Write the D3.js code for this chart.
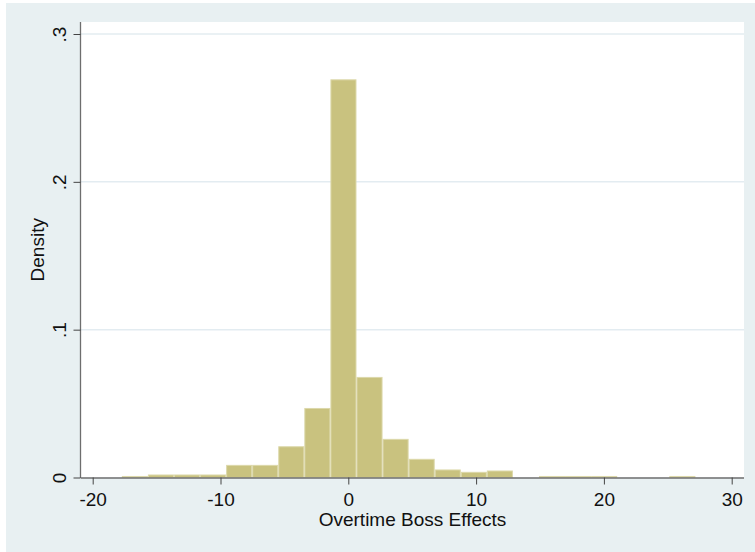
<!DOCTYPE html>
<html>
<head>
<meta charset="utf-8">
<script src="https://cdn.jsdelivr.net/npm/d3@7"></script>
<style>
html,body{margin:0;padding:0;background:#fff;}
svg{display:block;}
text{font-family:"Liberation Sans",Arial,sans-serif;fill:#111;}
</style>
</head>
<body>
<svg id="chart" width="755" height="552"></svg>
<script>
// Histogram bins (left edges start at binStart, fixed width)
const binStart = -17.72;
const binWidth = 2.04;
const densities = [0.0007, 0.0017, 0.0017, 0.0017, 0.0082, 0.0082, 0.0208, 0.0467, 0.269, 0.0677,
                   0.0258, 0.0123, 0.0051, 0.0035, 0.0044, 0, 0.0007, 0.0007, 0.0007, 0, 0, 0.0007];
const xTicks = [-20, -10, 0, 10, 20, 30];
const xTickLabels = ["-20", "-10", "0", "10", "20", "30"];
const yTicks = [0, 0.1, 0.2, 0.3];
const yTickLabels = ["0", ".1", ".2", ".3"];
const xTitle = "Overtime Boss Effects";
const yTitle = "Density";

const bins = densities.map((d, i) => ({x0: binStart + i * binWidth, x1: binStart + (i + 1) * binWidth, d}));

const svg = d3.select("#chart");
// outer background
svg.append("rect").attr("x", 6).attr("y", 3).attr("width", 749).attr("height", 549).attr("fill", "#e8f0f2");

const plotL = 81, plotR = 744, plotT = 22, plotB = 477.5;
svg.append("rect").attr("x", plotL).attr("y", plotT).attr("width", plotR - plotL).attr("height", plotB - plotT).attr("fill", "#ffffff");

const x = d3.scaleLinear().domain([-20, 30]).range([92.7, 731.7]);
const y = d3.scaleLinear().domain([0, 0.3]).range([plotB, 34]);

// gridlines
svg.append("g").selectAll("line").data(yTicks.filter(t => t > 0)).join("line")
  .attr("x1", plotL).attr("x2", plotR)
  .attr("y1", d => y(d)).attr("y2", d => y(d))
  .attr("stroke", "#e3ecf1").attr("stroke-width", 1.5);

// bars
svg.append("g").selectAll("rect").data(bins.filter(b => b.d > 0)).join("rect")
  .attr("x", b => x(b.x0) + 0.5)
  .attr("width", b => x(b.x1) - x(b.x0) - 1)
  .attr("y", b => y(b.d))
  .attr("height", b => Math.max(0, y(0) - y(b.d)))
  .attr("fill", "#c9c27f")
  .attr("stroke", "#dcd8aa")
  .attr("stroke-width", 1);

// x axis
const xAxis = d3.axisBottom(x).tickValues(xTicks).tickSize(7).tickPadding(8)
  .tickFormat((d, i) => xTickLabels[i]);
const gx = svg.append("g").attr("transform", `translate(0,${plotB})`).call(xAxis);
gx.select(".domain").attr("d", `M${plotL},0.5H${plotR}`).attr("stroke", "#6e6e6e").attr("stroke-width", 1.3);
gx.selectAll(".tick line").attr("stroke", "#444");
gx.selectAll(".tick text").attr("font-size", 19).attr("font-family", "Liberation Sans, Arial, sans-serif").attr("fill", "#111");

// y axis
const yAxis = d3.axisLeft(y).tickValues(yTicks).tickSize(7).tickFormat((d, i) => yTickLabels[i]);
const gy = svg.append("g").attr("transform", `translate(${plotL - 0.5},0)`).call(yAxis);
gy.select(".domain").attr("d", `M0,${plotT}V${plotB + 0.5}`).attr("stroke", "#6e6e6e").attr("stroke-width", 1.3);
gy.selectAll(".tick line").attr("stroke", "#444");
gy.selectAll(".tick text")
  .attr("font-size", 19).attr("font-family", "Liberation Sans, Arial, sans-serif").attr("fill", "#111")
  .attr("x", null).attr("dy", null)
  .attr("text-anchor", "middle")
  .attr("transform", "translate(-15,0) rotate(-90)");

// titles
svg.append("text").attr("x", (plotL + plotR) / 2).attr("y", 525.5)
  .attr("text-anchor", "middle").attr("font-size", 19).text(xTitle);
svg.append("text").attr("transform", `translate(44,${(plotT + plotB) / 2}) rotate(-90)`)
  .attr("text-anchor", "middle").attr("font-size", 19).text(yTitle);
</script>
</body>
</html>
